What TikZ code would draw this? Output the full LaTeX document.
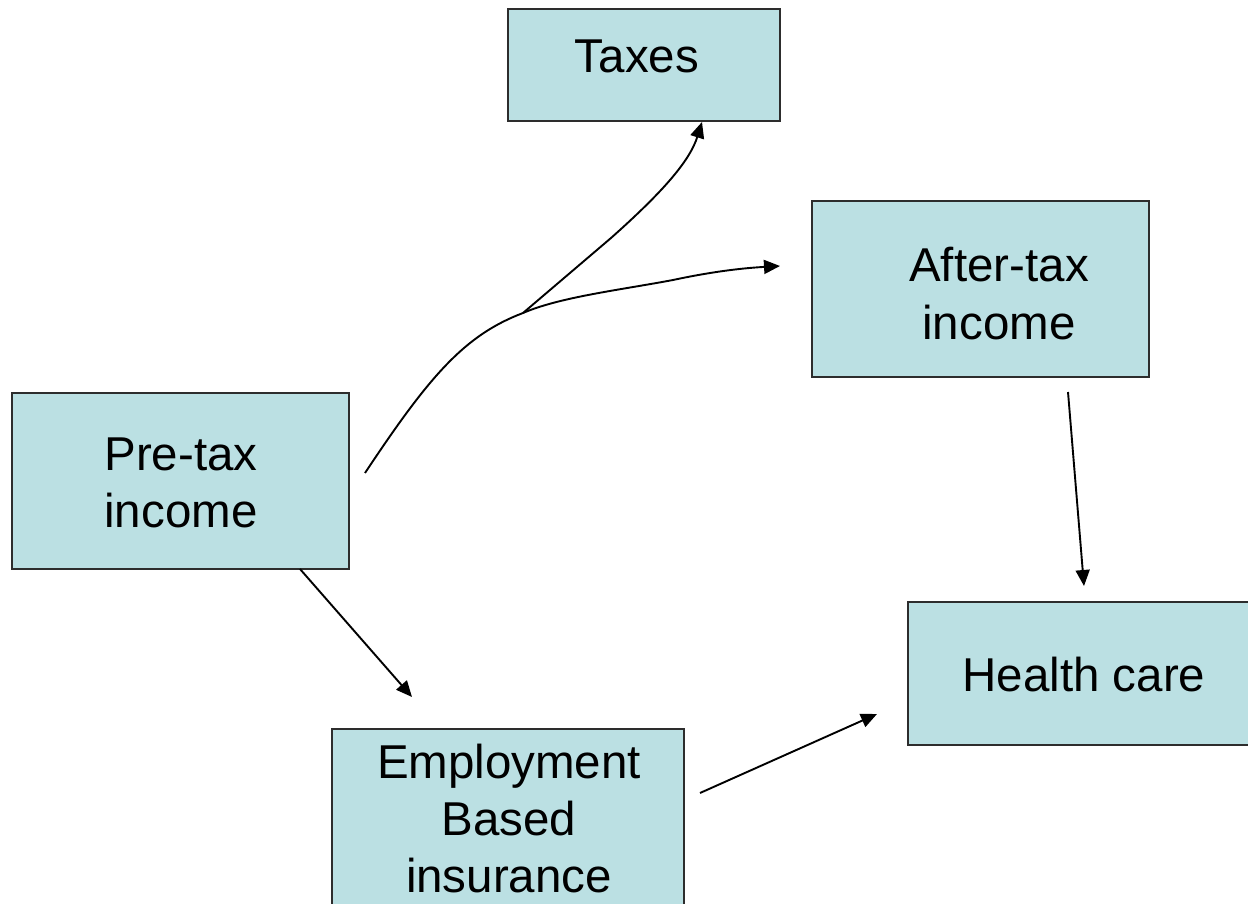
\documentclass[tikz,border=0pt]{standalone}
\usepackage{fontspec}
\setmainfont{Liberation Sans}
\usetikzlibrary{arrows.meta}
\definecolor{boxfill}{RGB}{187,224,227}
\definecolor{boxline}{RGB}{45,45,45}
\begin{document}
\begin{tikzpicture}[x=1pt,y=-1pt,
  box/.style={draw=boxline,fill=boxfill,line width=1.8pt,inner sep=0pt},
  lbl/.style={anchor=base,inner sep=0pt,font=\fontsize{47.5}{57}\selectfont},
  conn/.style={line width=1.9pt,-{Triangle[length=16pt,width=14pt]}}]
\useasboundingbox (0,0) rectangle (1248,904);
\clip (0,0) rectangle (1248,904);
% boxes
\node[box,minimum width=272pt,minimum height=112pt] (taxes) at (644,65) {};
\node[box,minimum width=337pt,minimum height=176pt] (after) at (980.5,289) {};
\node[box,minimum width=337pt,minimum height=176pt] (pre) at (180.5,481) {};
\node[box,minimum width=352pt,minimum height=200pt] (emp) at (508,829) {};
\node[box,minimum width=360pt,minimum height=143pt] (health) at (1088,673.5) {};
% texts
\node[lbl] (t1) at (637,73) {Taxes};
\node[lbl] (a1) at (999,282) {After-tax};
\node[lbl] (a2) at (999,339) {income};
\node[lbl] (p1) at (181,470) {Pre-tax};
\node[lbl] (p2) at (181,527) {income};
\node[lbl] (e1) at (509,778) {Employment};
\node[lbl] (e2) at (509,835) {Based};
\node[lbl] (e3) at (509,892) {insurance};
\node[lbl] (h1) at (1084,691) {Health care};
% connector end points
\coordinate (preOut) at (365,473);
\coordinate (split) at (523,313);
\coordinate (afterIn) at (780,266);
\coordinate (taxIn) at (702,122);
\coordinate (preBot) at (300,569);
\coordinate (empIn) at (412,697);
\coordinate (empOut) at (700,793);
\coordinate (healthInL) at (877,714);
\coordinate (afterOut) at (1068,392);
\coordinate (healthInT) at (1084,586);
% connectors
\draw[conn] (preOut) .. controls (430,375) and (465,335) .. (split)
   .. controls (560,297) and (620,290) .. (673,280)
   .. controls (715,271) and (745,268) .. (afterIn);
\draw[conn] (split) -- (611,238) .. controls (665,190) and (690,160) .. (taxIn);
\draw[conn] (preBot) -- (empIn);
\draw[conn] (empOut) -- (healthInL);
\draw[conn] (afterOut) -- (healthInT);
\end{tikzpicture}
\end{document}
